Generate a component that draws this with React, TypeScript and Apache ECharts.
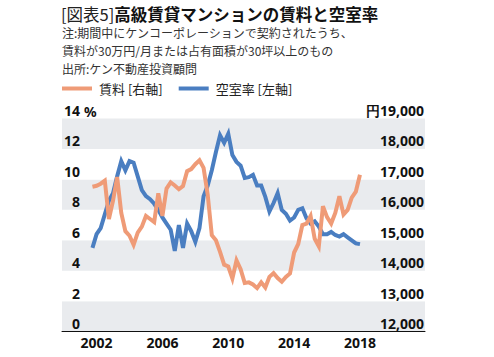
import React, { useEffect, useRef } from "react";
import * as echarts from "echarts";

// Quarterly observations, 2001 Q4 .. 2018 Q1
const quarters: string[] = [];
for (let y = 2001; y <= 2018; y++) {
  for (let q = 1; q <= 4; q++) {
    if ((y === 2001 && q < 4) || (y === 2018 && q > 1)) continue;
    quarters.push(`${y}Q${q}`);
  }
}

// 空室率 (%), left axis
const vacancy = [
  5.5, 6.4, 6.8, 7.7, 8.6, 9.1, 10.2, 11.2, 10.6, 11.2,
  11.1, 10.2, 9.3, 8.9, 8.7, 8.4, 8.0, 7.5, 7.1, 6.7,
  5.3, 7.0, 5.5, 7.1, 6.6, 5.9, 6.8, 8.9, 9.6, 10.6,
  11.8, 12.9, 12.4, 13.0, 11.6, 11.15, 10.9, 10.1, 10.15, 10.3,
  9.6, 9.6, 8.85, 7.9, 8.45, 9.1, 8.0, 7.75, 7.3, 7.5,
  8.0, 8.1, 7.45, 7.1, 7.25, 6.9, 6.4, 6.4, 6.55, 6.35,
  6.25, 6.4, 6.2, 6.0, 5.8, 5.75,
];

// 賃料 (円), right axis
const rent = [
  16760, 16790, 16860, 16960, 15700, 16300, 17080, 15900, 15300, 15150,
  14850, 15250, 15450, 15800, 15700, 15600, 16545, 15800, 16700, 16900,
  16800, 16680, 16780, 17270, 17340, 17500, 17630, 17380, 16500, 15170,
  15000, 14620, 14200, 14140, 13750, 14340, 14050, 13600, 13620, 13550,
  13430, 13620, 13450, 13800, 13920, 13760, 13640, 13800, 13910, 14600,
  14880, 15500, 15550, 15800, 15050, 14800, 16120, 15760, 15550, 15900,
  16450, 15850, 16000, 16400, 16600, 17150,
];

const xLabelYears = [2002, 2006, 2010, 2014, 2018];
const leftTicks = { min: 0, max: 14, interval: 2 };
const rightTicks = { min: 12000, max: 19000, interval: 1000 };

const titleTag = "[図表5]";
const titleMain = "高級賃貸マンションの賃料と空室率";
const noteLines = [
  "注:期間中にケンコーポレーションで契約されたうち、",
  "賃料が30万円/月または占有面積が30坪以上のもの",
  "出所:ケン不動産投資顧問",
];
const rentName = "賃料 [右軸]";
const vacancyName = "空室率 [左軸]";

const CJK = '"Noto Sans CJK JP", "Noto Sans", sans-serif';
const NUM = '"Noto Sans", "Open Sans", sans-serif';

function quarterToYear(q: string): number {
  const [y, qq] = q.split("Q");
  return Number(y) + (Number(qq) - 1) / 4;
}

function fmtThousands(v: number): string {
  return String(v).replace(/\B(?=(\d{3})+(?!\d))/g, ",");
}

export default function App() {
  const ref = useRef<HTMLDivElement>(null);
  useEffect(() => {
    if (!ref.current) return;
    const chart = echarts.init(ref.current, undefined, { renderer: "svg" });
    const orange = "#ef9b77";
    const blue = "#4a7ec1";
    chart.setOption({
      animation: false,
      backgroundColor: "#ffffff",
      title: [
        {
          text: `{a|${titleTag}}{b|${titleMain}}`,
          left: 61,
          top: 3,
          padding: 0,
          textStyle: {
            rich: {
              a: { fontFamily: CJK, fontSize: 16.5, fontWeight: "normal", color: "#222", lineHeight: 21 },
              b: { fontFamily: CJK, fontSize: 16.5, fontWeight: "bold", color: "#111", lineHeight: 21 },
            },
          },
        },
        {
          text: noteLines.join("\n"),
          left: 62,
          top: 23.5,
          padding: 0,
          textStyle: {
            fontFamily: CJK,
            fontSize: 12,
            fontWeight: "normal",
            color: "#333",
            lineHeight: 18,
          },
        },
      ],
      legend: {
        left: 62,
        top: 82,
        padding: 0,
        icon: "rect",
        itemWidth: 30,
        itemHeight: 4,
        itemGap: 16,
        data: [rentName, vacancyName],
        textStyle: { fontFamily: CJK, fontSize: 13, color: "#222", padding: [0, 0, 0, 2] },
      },
      grid: { left: 62, right: 69, top: 118.5, bottom: 25.3 },
      xAxis: {
        type: "value",
        min: 1999.9,
        max: 2021.95,
        axisLine: { show: true, lineStyle: { color: "#111", width: 1 } },
        axisTick: { show: false },
        splitLine: { show: false },
        axisLabel: {
          customValues: xLabelYears,
          fontFamily: NUM,
          fontSize: 14,
          fontWeight: "bold",
          color: "#111",
          margin: 4,
          formatter: (v: number) => String(Math.round(v)),
        },
      },
      yAxis: [
        {
          type: "value",
          position: "left",
          min: leftTicks.min,
          max: leftTicks.max,
          interval: leftTicks.interval,
          axisLine: { show: false },
          axisTick: { show: false },
          splitLine: { show: false },
          splitArea: { show: true, areaStyle: { color: ["#e9ebee", "#ffffff"] } },
          axisLabel: {
            inside: true,
            align: "right",
            verticalAlign: "bottom",
            lineHeight: 16,
            margin: 18,
            fontFamily: NUM,
            fontSize: 14,
            fontWeight: "bold",
            color: "#111",
          },
        },
        {
          type: "value",
          position: "right",
          min: rightTicks.min,
          max: rightTicks.max,
          interval: rightTicks.interval,
          axisLine: { show: false },
          axisTick: { show: false },
          splitLine: { show: false },
          axisLabel: {
            inside: true,
            align: "right",
            verticalAlign: "bottom",
            lineHeight: 16,
            margin: 1,
            fontFamily: NUM,
            fontSize: 14,
            fontWeight: "bold",
            color: "#111",
            formatter: (v: number) => (v === rightTicks.max ? "円" : "") + fmtThousands(v),
          },
        },
      ],
      graphic: [
        {
          type: "text",
          left: 84,
          top: 104,
          style: { text: "%", font: `bold 14px ${NUM}`, fill: "#111" },
        },
      ],
      series: [
        {
          name: vacancyName,
          type: "line",
          yAxisIndex: 0,
          showSymbol: false,
          symbol: "none",
          lineStyle: { color: blue, width: 4, join: "miter" },
          itemStyle: { color: blue },
          data: quarters.map((q, i) => [quarterToYear(q), vacancy[i]]),
        },
        {
          name: rentName,
          type: "line",
          yAxisIndex: 1,
          showSymbol: false,
          symbol: "none",
          lineStyle: { color: orange, width: 4, join: "miter" },
          itemStyle: { color: orange },
          data: quarters.map((q, i) => [quarterToYear(q), rent[i]]),
        },
      ],
    });
    return () => chart.dispose();
  }, []);
  return (
    <div
      ref={ref}
      style={{ position: "fixed", left: 0, top: 0, width: 494, height: 357, background: "#fff" }}
    />
  );
}
